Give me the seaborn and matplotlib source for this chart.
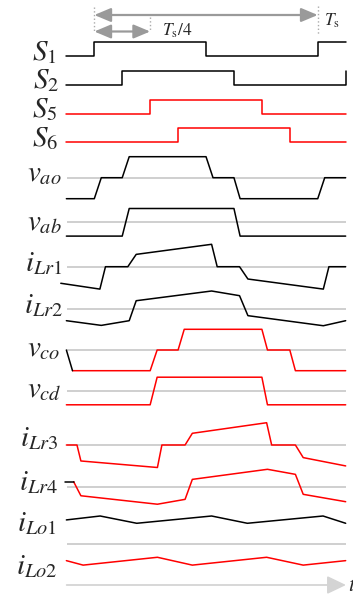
import numpy as np
import pandas as pd
import matplotlib
matplotlib.use("Agg")
import matplotlib.pyplot as plt
import seaborn as sns

# ---------------------------------------------------------------------------
# Waveform data. Time is in units of Ts/8 (one switching period = 8 units).
# Values are normalised to the peak of each trace.
# ---------------------------------------------------------------------------
s1_t = [-1, 0, 0, 4, 4, 8, 8, 9]
s1_v = [0, 0, 1, 1, 0, 0, 1, 1]
s2_t = [-1, 1, 1, 5, 5, 9, 9]
s2_v = [0, 0, 1, 1, 0, 0, 1]
s5_t = [-1, 2, 2, 6, 6, 9]
s5_v = [0, 0, 1, 1, 0, 0]
s6_t = [-1, 3, 3, 7, 7, 9]
s6_v = [0, 0, 1, 1, 0, 0]

vao_t = [-1, 0, 0.25, 1, 1.25, 4, 4.25, 5, 5.22, 8, 8.25, 9]
vao_v = [-1, -1, 0, 0, 1, 1, 0, 0, -1, -1, 0, 0]
vab_t = [-1, 1, 1.25, 5, 5.22, 9]
vab_v = [-1, -1, 1, 1, -1, -1]

ilr1_t = [-1.2, 0.2, 0.4, 1.2, 1.5, 4.2, 4.4, 5.2, 5.5, 8.2, 8.4, 9]
ilr1_v = [-0.74, -1.0, 0, 0, 0.55, 1.0, 0, 0, -0.55, -1.0, 0, 0]
ilr2_t = [-1, 0.25, 1.25, 1.5, 4.2, 5.2, 5.5, 8.2, 9]
ilr2_v = [-0.65, -0.91, -0.65, 0.46, 1.0, 0.74, -0.37, -0.93, -0.65]

vco_pre_t = [-1, -0.78]
vco_pre_v = [0, -1]
vco_t = [-0.78, 2, 2.25, 3, 3.22, 6, 6.2, 7, 7.2, 9]
vco_v = [-1, -1, 0, 0, 1, 1, 0, 0, -1, -1]
vcd_t = [-1, 2, 2.25, 6, 6.2, 9]
vcd_v = [-1, -1, 1, 1, -1, -1]

ilr3_t = [-1, -0.62, -0.48, 2.26, 2.42, 3.25, 3.51, 6.17, 6.35, 7.2, 7.48, 9]
ilr3_v = [0, 0, -0.71, -1.0, 0, 0, 0.52, 0.99, 0, 0, -0.56, -0.93]
ilr4_pre_t = [-1.04, -0.74]
ilr4_pre_v = [0.31, 0.31]
ilr4_t = [-0.74, -0.48, 2.26, 3.25, 3.51, 6.2, 7.2, 7.48, 9]
ilr4_v = [0.31, -0.47, -0.94, -0.67, 0.44, 1.0, 0.72, -0.39, -0.8]

ilo1_t = [-1, 0.21, 1.52, 4.2, 5.48, 8.19, 9]
ilo1_v = [0.86, 1.0, 0.74, 1.0, 0.74, 1.0, 0.74]
ilo2_t = [-1, -0.4, 2.26, 3.51, 6.17, 7.48, 9]
ilo2_v = [0.87, 0.71, 0.99, 0.71, 0.99, 0.71, 0.87]

labels = [r"$S_1$", r"$S_2$", r"$S_5$", r"$S_6$", r"$v_{ao}$", r"$v_{ab}$",
          r"$i_{Lr1}$", r"$i_{Lr2}$", r"$v_{co}$", r"$v_{cd}$",
          r"$i_{Lr3}$", r"$i_{Lr4}$", r"$i_{Lo1}$", r"$i_{Lo2}$"]

# ---------------------------------------------------------------------------
# Layout (figure pixels)
# ---------------------------------------------------------------------------
W, H = 353, 595
T0_PX, UNIT_PX = 94.3, 27.93
BLACK, RED, GRID, ARROW = "#000000", "#ff0000", "#cccccc", "#9a9a9a"


def tx(px):
    """Horizontal figure pixel -> time units."""
    return (px - T0_PX) / UNIT_PX


sns.set_theme(style="white")
plt.rcParams["mathtext.fontset"] = "stix"
plt.rcParams["font.family"] = ["Liberation Serif", "DejaVu Serif"]

fig = plt.figure(figsize=(W / 100, H / 100), dpi=100)
ax = fig.add_axes([0, 0, 1, 1])


def trace(t, v, base, scale, color, lw=1.1):
    df = pd.DataFrame({"t": t, "y": base - scale * np.asarray(v, float)})
    sns.lineplot(data=df, x="t", y="y", ax=ax, color=color, lw=lw,
                 sort=False, estimator=None, errorbar=None)


# rows: (t, v, baseline px, scale px, colour)
rows = [
    (s1_t, s1_v, 56.0, 13.7, BLACK),
    (s2_t, s2_v, 85.0, 14.0, BLACK),
    (s5_t, s5_v, 114.0, 14.0, RED),
    (s6_t, s6_v, 142.3, 14.0, RED),
    (vao_t, vao_v, 177.7, 21.0, BLACK),
    (vab_t, vab_v, 222.3, 13.8, BLACK),
    (ilr1_t, ilr1_v, 266.7, 22.4, BLACK),
    (ilr2_t, ilr2_v, 309.0, 18.0, BLACK),
    (vco_t, vco_v, 350.0, 20.7, RED),
    (vcd_t, vcd_v, 391.0, 13.8, RED),
    (ilr3_t, ilr3_v, 445.0, 22.5, RED),
    (ilr4_t, ilr4_v, 487.3, 18.0, RED),
    (ilo1_t, ilo1_v, 544.0, 28.0, BLACK),
    (ilo2_t, ilo2_v, 585.0, 28.0, RED),
]

# grey zero lines under the analogue waveforms
for _, _, base, _, _ in rows[4:13]:
    ax.hlines(base, tx(66.7), tx(346), color=GRID, lw=1.3, zorder=1)

# time axis with arrow head
ax.annotate("", xy=(tx(346), 585.0), xytext=(tx(66.7), 585.0),
            arrowprops=dict(arrowstyle="-|>,head_length=1.15,head_width=0.55",
                            mutation_scale=10, color="#d4d4d4", lw=1.3,
                            shrinkA=0, shrinkB=0), zorder=1)
ax.text(tx(348.5), 591, r"$t$", fontsize=16, ha="left", va="baseline")

for t, v, base, scale, color in rows:
    trace(t, v, base, scale, color)
trace(vco_pre_t, vco_pre_v, 350.0, 20.7, BLACK)
trace(ilr4_pre_t, ilr4_pre_v, 487.3, 18.0, BLACK)

# signal names
label_pos = [(57, 60), (59, 88), (57, 117.5), (58, 146), (62, 181.5),
             (62, 230), (62, 271), (63, 313), (61, 356), (62, 397),
             (58, 446), (58, 490), (57, 531.5), (57, 574)]
for text, (xr, yb) in zip(labels, label_pos):
    ax.text(tx(xr), yb, text, fontsize=21, ha="right", va="baseline")

# period markers
for t_m, y0, y1 in [(0, 7, 32), (2, 17, 30), (8, 6, 35)]:
    ax.vlines(t_m, y0, y1, color="#aaaaaa", lw=1.0, linestyles=":")
arrow_style = dict(arrowstyle="<|-|>,head_length=1.0,head_width=0.42",
                   mutation_scale=10, color=ARROW, lw=1.6, shrinkA=0, shrinkB=0)
ax.annotate("", xy=(8, 15), xytext=(0, 15), arrowprops=arrow_style)
ax.annotate("", xy=(2, 31.5), xytext=(0, 31.5), arrowprops=arrow_style)
ax.text(tx(162), 36, r"$T_{\rm s}/4$", fontsize=12.5, ha="left", va="baseline")
ax.text(tx(324), 26, r"$T_{\rm s}$", fontsize=12.5, ha="left", va="baseline")

ax.set_xlim(tx(0), tx(W))
ax.set_ylim(H, 0)
ax.axis("off")
fig.savefig("out.png", dpi=100, facecolor="white")
